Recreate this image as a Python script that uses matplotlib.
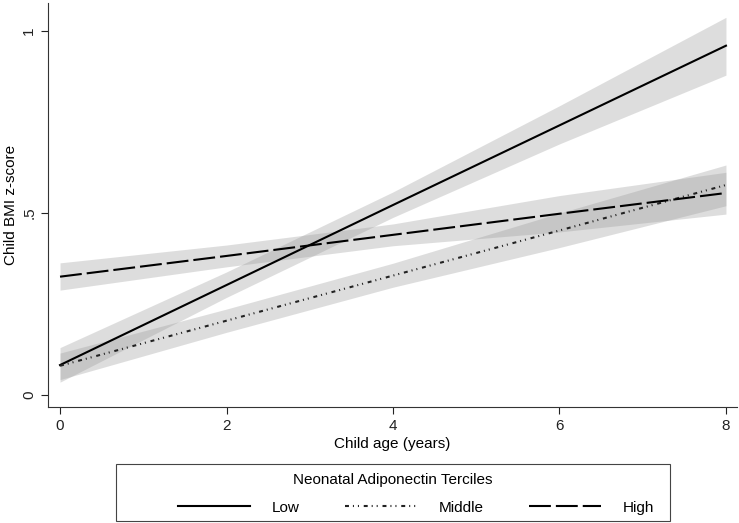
import numpy as np
from matplotlib import pyplot as plt
from matplotlib.lines import Line2D
from matplotlib.patches import Rectangle

plt.rcParams['font.family'] = ['Liberation Sans', 'DejaVu Sans']

# Child age (years) and fitted BMI z-score per adiponectin tercile
age = [0, 2, 4, 6, 8]

low_fit = [0.082, 0.302, 0.522, 0.741, 0.960]
low_lo = [0.035, 0.268, 0.488, 0.690, 0.879]
low_hi = [0.130, 0.338, 0.558, 0.795, 1.038]

mid_fit = [0.080, 0.204, 0.328, 0.452, 0.577]
mid_lo = [0.042, 0.172, 0.296, 0.405, 0.520]
mid_hi = [0.115, 0.236, 0.362, 0.500, 0.632]

high_fit = [0.325, 0.382, 0.440, 0.498, 0.555]
high_lo = [0.288, 0.352, 0.410, 0.448, 0.497]
high_hi = [0.363, 0.412, 0.470, 0.548, 0.612]

legend_title = 'Neonatal Adiponectin Terciles'
legend_labels = ['Low', 'Middle', 'High']

fig = plt.figure(figsize=(7.39, 5.23), dpi=100)
ax = fig.add_axes([0.065, 0.222, 0.932, 0.772])

band_kw = dict(color='#9a9a9a', alpha=0.33, linewidth=0)
ax.fill_between(age, low_lo, low_hi, **band_kw)
ax.fill_between(age, mid_lo, mid_hi, **band_kw)
ax.fill_between(age, high_lo, high_hi, **band_kw)

styles = [
    dict(color='black', lw=1.5, ls='-'),
    dict(color='#222222', lw=1.5, ls=(0, (1.9, 1.9, 0.5, 1.9, 0.5, 2.3))),
    dict(color='black', lw=1.5, ls=(0, (10.5, 2.4))),
]
ax.plot(age, low_fit, **styles[0])
ax.plot(age, mid_fit, **styles[1])
ax.plot(age, high_fit, **styles[2])

ax.set_xlim(-0.144, 8.13)
ax.set_ylim(-0.033, 1.077)
ax.set_xticks([0, 2, 4, 6, 8])
ax.set_yticks([0, 0.5, 1])
ax.set_yticklabels(['0', '.5', '1'], rotation=90, va='center')
ax.tick_params(direction='out', length=5, width=0.8, labelsize=11, colors='#222222')
for side in ('top', 'right'):
    ax.spines[side].set_visible(False)
for side in ('left', 'bottom'):
    ax.spines[side].set_linewidth(0.8)
    ax.spines[side].set_color('#333333')

ax.set_xlabel('Child age (years)', fontsize=11, labelpad=3)
ax.set_ylabel('Child BMI z-score', fontsize=11, labelpad=3)

# legend box, title and entries (Stata style)
fig.patches.append(Rectangle((0.157, 0.003), 0.75, 0.110, transform=fig.transFigure,
                             fill=False, edgecolor='#444444', linewidth=0.8))
fig.text(0.532, 0.082, legend_title, ha='center', va='center', fontsize=11)

handles = [Line2D([], [], **s) for s in styles]
leg = fig.legend(handles, legend_labels, ncol=3, loc='center',
                 bbox_to_anchor=(0.563, 0.029), frameon=False,
                 handlelength=4.7, handletextpad=1.4, columnspacing=3.0,
                 fontsize=11, borderpad=0.0)

fig.savefig('out.png', dpi=100)
